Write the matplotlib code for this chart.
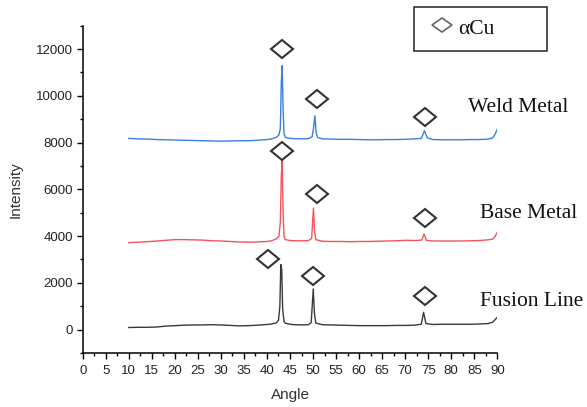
import numpy as np
import matplotlib
matplotlib.use("Agg")
import matplotlib.pyplot as plt
from matplotlib.markers import MarkerStyle
from matplotlib.transforms import Affine2D
from matplotlib.patches import Rectangle
from matplotlib.lines import Line2D
from matplotlib.ticker import MultipleLocator

# Weld Metal (blue)
weld_angle = [10, 11, 12, 14, 16, 18, 20, 22, 24, 26, 28, 30, 32, 34, 36, 38, 40, 41, 42,
              42.6, 42.9, 43.1, 43.3, 43.5, 43.7, 44, 45, 46, 47, 48, 49, 49.8, 50.1, 50.4,
              50.7, 51, 52, 54, 56, 58, 60, 62, 64, 66, 68, 70, 72, 73.5, 74.2, 74.8, 76,
              78, 80, 82, 84, 86, 88, 89, 89.5, 90]
weld_int = [8180, 8170, 8160, 8150, 8130, 8120, 8110, 8100, 8090, 8080, 8070, 8060, 8070,
            8080, 8080, 8100, 8130, 8160, 8220, 8330, 8600, 10500, 11290, 9400, 8400, 8220,
            8180, 8170, 8160, 8160, 8170, 8250, 8600, 9150, 8400, 8220, 8160, 8150, 8140,
            8140, 8130, 8120, 8120, 8130, 8130, 8140, 8160, 8180, 8500, 8200, 8130, 8120,
            8120, 8120, 8130, 8130, 8150, 8200, 8350, 8580]

# Base Metal (red)
base_angle = [10, 12, 14, 16, 18, 20, 22, 24, 26, 28, 30, 32, 34, 36, 38, 40, 41, 42, 42.6,
              42.9, 43.1, 43.3, 43.5, 43.7, 44, 45, 46, 48, 49, 49.7, 49.9, 50.1, 50.3, 50.6,
              52, 54, 56, 58, 60, 62, 64, 66, 68, 70, 72, 73.6, 74.1, 74.6, 76, 78, 80, 82,
              84, 86, 88, 89, 89.5, 90]
base_int = [3720, 3740, 3760, 3790, 3820, 3850, 3850, 3840, 3830, 3800, 3790, 3770, 3750,
            3740, 3750, 3770, 3800, 3880, 4000, 4600, 6500, 7270, 5000, 4000, 3850, 3810,
            3800, 3800, 3810, 3900, 4600, 5190, 4300, 3850, 3780, 3770, 3770, 3760, 3770,
            3770, 3780, 3790, 3800, 3820, 3810, 3830, 4090, 3820, 3790, 3790, 3790, 3790,
            3800, 3810, 3840, 3870, 3980, 4170]

# Fusion Line (black)
fusion_angle = [10, 12, 14, 16, 18, 20, 22, 24, 26, 28, 30, 32, 34, 36, 38, 40, 41, 42, 42.5,
                42.8, 43.0, 43.2, 43.4, 43.7, 44, 45, 46, 48, 49, 49.6, 49.85, 50.05, 50.3,
                50.6, 52, 54, 56, 58, 60, 62, 64, 66, 68, 70, 72, 73.5, 74.0, 74.5, 76, 78,
                80, 82, 84, 86, 88, 89, 89.5, 90]
fusion_int = [90, 100, 100, 110, 150, 170, 190, 200, 200, 210, 200, 180, 160, 170, 190, 220,
              240, 290, 400, 1000, 2780, 2600, 900, 350, 270, 230, 210, 200, 210, 300, 1100,
              1740, 700, 280, 210, 200, 190, 180, 170, 170, 170, 170, 180, 180, 190, 230, 740,
              260, 220, 230, 230, 230, 230, 240, 260, 320, 420, 530]

# alpha-Cu peak markers
mark_angle = [43.2, 50.8, 74.3, 43.2, 50.8, 74.3, 40.3, 49.9, 74.3]
mark_int = [12000, 9870, 9085, 7630, 5800, 4780, 3020, 2280, 1430]

labels = ["Weld Metal", "Base Metal", "Fusion Line"]
label_pos = [(83.6, 9310), (86.3, 4760), (86.3, 1030)]

fig = plt.figure(figsize=(5.87, 4.07), dpi=100)
ax = fig.add_axes([82.7 / 587, 54 / 407, 414.6 / 587, 327.3 / 407])

ax.plot(weld_angle, weld_int, color="#3b7fe3", lw=1.0)
ax.plot(base_angle, base_int, color="#f2545e", lw=1.0)
ax.plot(fusion_angle, fusion_int, color="#3a3a3a", lw=1.0)

diamond = MarkerStyle("D", transform=Affine2D().scale(1.2, 1.0))
ax.plot(mark_angle, mark_int, ls="none", marker=diamond, ms=9.3,
        mfc="white", mec="#333333", mew=1.5, clip_on=False, zorder=5)

for txt, (x, y) in zip(labels, label_pos):
    ax.text(x, y, txt, family="Liberation Serif", fontsize=15.5, color="#111111",
            va="baseline", ha="left", clip_on=False)

ax.set_xlim(0, 90)
ax.set_ylim(-1000, 13000)
ax.xaxis.set_major_locator(MultipleLocator(5))
ax.xaxis.set_minor_locator(MultipleLocator(2.5))
ax.yaxis.set_major_locator(MultipleLocator(2000))
ax.yaxis.set_minor_locator(MultipleLocator(1000))

for s in ["top", "right"]:
    ax.spines[s].set_visible(False)
for s in ["left", "bottom"]:
    ax.spines[s].set_linewidth(1.1)

ax.tick_params(which="major", direction="out", length=4, width=1.0, pad=3,
               labelsize=9.5, labelcolor="#222222")
ax.tick_params(axis="x", which="major", pad=5)
ax.tick_params(which="minor", direction="out", length=2.5, width=1.0)
for lab in ax.get_xticklabels() + ax.get_yticklabels():
    lab.set_family("Liberation Sans")

ax.set_xlabel("Angle", family="Liberation Sans", fontsize=11, color="#333333")
ax.set_ylabel("Intensity", family="Liberation Sans", fontsize=11, color="#333333")
ax.xaxis.set_label_coords(0.5, -0.108)
ax.yaxis.set_label_coords(-0.146, 0.5)

# legend box
fig.add_artist(Rectangle((414 / 587, 1 - 50.7 / 407), 132.7 / 587, 43.4 / 407,
                         transform=fig.transFigure, fill=False, ec="#222222", lw=1.1))
fig.add_artist(Line2D([441.7 / 587], [1 - 25 / 407], transform=fig.transFigure,
                      marker=MarkerStyle("D", transform=Affine2D().scale(1.3, 1.0)),
                      ms=7.5, mfc="white", mec="#666666", mew=1.2))
fig.text(458 / 587, 1 - 34.3 / 407, "αCu", family="Liberation Serif", fontsize=15.5,
         color="#111111", va="baseline")

fig.savefig("out.png", dpi=100)
